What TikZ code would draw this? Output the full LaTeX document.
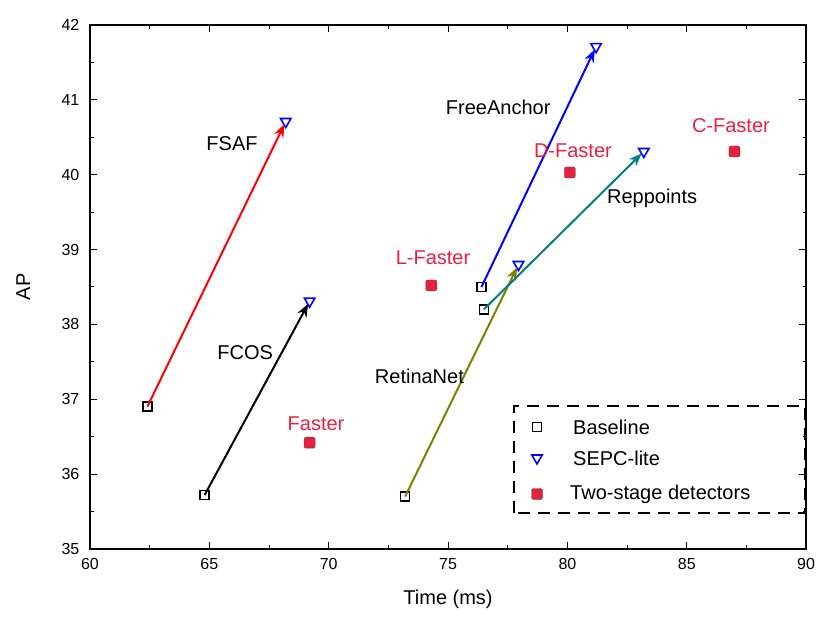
\documentclass[tikz,border=0pt]{standalone}
\usepackage{fontspec}
\setmainfont{Liberation Sans}
\usetikzlibrary{arrows.meta}
\definecolor{tsred}{HTML}{E8203F}
\definecolor{olivec}{HTML}{808000}
\definecolor{tealc}{HTML}{008080}
\tikzset{
 base/.style={draw=black,line width=1.6pt,minimum size=9pt,inner sep=0pt,fill=white},
 sepc/.style={draw=blue,isosceles triangle,shape border rotate=-90,line width=1.6pt,minimum size=9pt,inner sep=0pt,isosceles triangle apex angle=60,fill=white},
 two/.style={draw=black!70,fill=tsred,rounded corners=2pt,minimum size=11pt,inner sep=0pt,line width=0.4pt},
 arr/.style={line width=2pt,-{Stealth[length=13pt,width=10pt]},shorten >=3pt},
 lab/.style={font=\fontsize{20}{22}\selectfont,inner sep=0pt},
 tick/.style={font=\fontsize{16}{18}\selectfont}
}
\usetikzlibrary{shapes.geometric}
\begin{document}
\begin{tikzpicture}[x=1pt,y=1pt]
\useasboundingbox (0,0) rectangle (830,630);
\fill[white] (0,0) rectangle (830,630);
\begin{scope}[shift={(90,81)},x=23.87pt,y=74.86pt]
% ticks
\foreach \v in {60,65,...,90}{
 \draw[line width=1pt] (\v-60,0) -- ++(0,0.1);
 \draw[line width=1pt] (\v-60,7) -- ++(0,-0.1);
 \node[tick,anchor=north] at (\v-60,-0.08) {\v};}
\foreach \v in {62.5,67.5,...,87.5}{
 \draw[line width=1pt] (\v-60,0) -- ++(0,0.05);
 \draw[line width=1pt] (\v-60,7) -- ++(0,-0.05);}
\foreach \a in {35,...,42}{
 \draw[line width=1pt] (0,\a-35) -- ++(0.3,0);
 \draw[line width=1pt] (30,\a-35) -- ++(-0.3,0);
 \node[tick,anchor=east] at (-0.3,\a-35) {\a};}
\foreach \a in {35.5,36.5,...,41.5}{
 \draw[line width=1pt] (0,\a-35) -- ++(0.15,0);
 \draw[line width=1pt] (30,\a-35) -- ++(-0.15,0);}
\draw[line width=1.8pt] (0,0) rectangle (30,7);
\node[lab,anchor=north] (xl) at (15,-0.55) {Time (ms)};
\node[lab,rotate=90,anchor=south] (yl) at (-2.5,3.5) {AP};
% baseline
\node[base] (b1) at (2.4,1.9) {};
\node[base] (b2) at (4.8,0.72) {};
\node[base] (b3) at (13.2,0.7) {};
\node[base] (b4) at (16.4,3.5) {};
\node[base] (b5) at (16.5,3.2) {};
% sepc
\node[sepc] (s1) at (8.2,5.71) {};
\node[sepc] (s2) at (9.2,3.31) {};
\node[sepc] (s3) at (17.95,3.8) {};
\node[sepc] (s4) at (21.2,6.71) {};
\node[sepc] (s5) at (23.2,5.31) {};
\draw[arr,red] (b1.center) -- (s1.center);
\draw[arr,black] (b2.center) -- (s2.center);
\draw[arr,olivec] (b3.center) -- (s3.center);
\draw[arr,blue] (b4.center) -- (s4.center);
\draw[arr,tealc] (b5.center) -- (s5.center);
% two-stage
\node[two] (t1) at (9.2,1.42) {};
\node[two] (t2) at (14.3,3.52) {};
\node[two] (t3) at (20.1,5.03) {};
\node[two] (t4) at (27,5.31) {};
% labels
\node[lab] (l1) at (5.95,5.41) {FSAF};
\node[lab] (l2) at (6.5,2.63) {FCOS};
\node[lab] (l3) at (13.8,2.31) {RetinaNet};
\node[lab] (l4) at (17.1,5.9) {FreeAnchor};
\node[lab] (l5) at (23.55,4.69) {Reppoints};
\node[lab,text=tsred] (l6) at (9.47,1.67) {Faster};
\node[lab,text=tsred] (l7) at (14.37,3.89) {L-Faster};
\node[lab,text=tsred] (l8) at (20.23,5.32) {D-Faster};
\node[lab,text=tsred] (l9) at (26.85,5.66) {C-Faster};
\end{scope}
% legend
\draw[line width=1.5pt,dash pattern=on 12pt off 8pt] (514,117) rectangle (805,224);
\node[base] (lb) at (537,203) {};
\node[sepc] (ls) at (537,172) {};
\node[two] (lt) at (537,136) {};
\node[lab,anchor=west] (lbt) at (573,203) {Baseline};
\node[lab,anchor=west] (lst) at (573,172) {SEPC-lite};
\node[lab,anchor=west] (ltt) at (570,136) {Two-stage detectors};
\end{tikzpicture}
\end{document}
